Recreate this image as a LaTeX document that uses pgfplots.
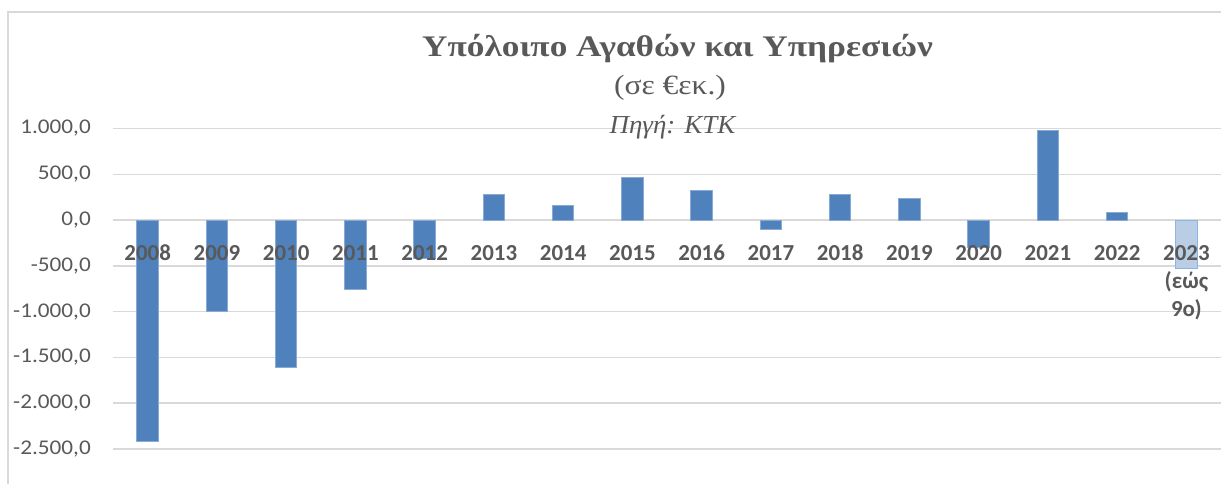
\documentclass[border=0pt]{standalone}
\usepackage{fontspec}
\setmainfont{Carlito}
\newfontfamily\ylabfont[FakeStretch=1.11]{Carlito}
\newfontfamily\titlefont[FakeStretch=1.18]{Liberation Serif}
\newfontfamily\subfont[FakeStretch=1.13]{Liberation Serif}
\newfontfamily\srcfont[FakeStretch=1.04]{Liberation Serif}
\usepackage{pgfplots}
\pgfplotsset{compat=1.18}
\definecolor{barblue}{HTML}{4F81BD}
\definecolor{barline}{HTML}{8AAAD6}
\definecolor{lightfill}{HTML}{B9CDE5}
\definecolor{lightline}{HTML}{8EB4E3}
\definecolor{gridgray}{HTML}{D9D9D9}
\definecolor{labelgray}{HTML}{595959}
\pgfplotsset{
  common/.style={
    at={(113bp,-449bp)}, anchor=south west,
    scale only axis, width=1108bp, height=320.5bp,
    xmin=-0.5, xmax=15.5, ymin=-2500, ymax=1000,
    axis x line*=middle, axis y line*=left,
    hide obscured x ticks=false, hide obscured y ticks=false,
    axis line style={draw=none},
    major tick length=0pt,
    clip=false,
  }
}
\begin{document}
\begin{tikzpicture}[x=1bp,y=1bp]
\useasboundingbox (0,0) rectangle (1221,-484);
\draw[color=gridgray, line width=1.5bp] (8,-490) -- (8,-12) -- (1230,-12);
\begin{axis}[
  common,
  ybar, bar width=21.7bp,
  ytick={-2500,-2000,-1500,-1000,-500,0,500,1000},
  yticklabels={{-2.500,0},{-2.000,0},{-1.500,0},{-1.000,0},{-500,0},{0,0},{500,0},{1.000,0}},
  ymajorgrids, grid style={color=gridgray, line width=1.5bp},
  xtick={0,...,15}, xticklabels={},
  yticklabel style={font=\ylabfont\fontsize{21}{25}\selectfont, text=labelgray, anchor=east, inner sep=0pt, xshift=-22bp},
]
\addplot[fill=barblue, draw=barline, line width=1bp, bar shift=0pt] coordinates {
(0,-2420) (1,-1000) (2,-1610) (3,-760) (4,-420) (5,284) (6,162) (7,469)
(8,320) (9,-107) (10,279) (11,232) (12,-300) (13,982) (14,84)};
\addplot[fill=lightfill, draw=lightline, line width=1bp, bar shift=0pt] coordinates {(15,-525)};
\end{axis}
\begin{axis}[
  common,
  ytick=\empty,
  xtick={0,...,15},
  xticklabels={2008,2009,2010,2011,2012,2013,2014,2015,2016,2017,2018,2019,2020,2021,2022,{\setlength{\tabcolsep}{0pt}\begin{tabular}[t]{c}2023\\(εώς\\9ο)\end{tabular}}},
  xticklabel style={font=\bfseries\fontsize{23}{28.3}\selectfont, text=labelgray, anchor=base, inner sep=0pt, yshift=-40bp},
]
\end{axis}
\node[anchor=base, text=labelgray, inner sep=0pt, font=\titlefont\bfseries\fontsize{30}{36}\selectfont] at (677.5,-56.5) {Υπόλοιπο Αγαθών και Υπηρεσιών};
\node[anchor=base, text=labelgray, inner sep=0pt, font=\subfont\fontsize{28}{32}\selectfont] at (670,-95) {(σε €εκ.)};
\node[anchor=base, text=labelgray, inner sep=0pt, font=\srcfont\itshape\fontsize{26}{30}\selectfont] at (672.5,-134) {Πηγή: ΚΤΚ};
\end{tikzpicture}
\end{document}
